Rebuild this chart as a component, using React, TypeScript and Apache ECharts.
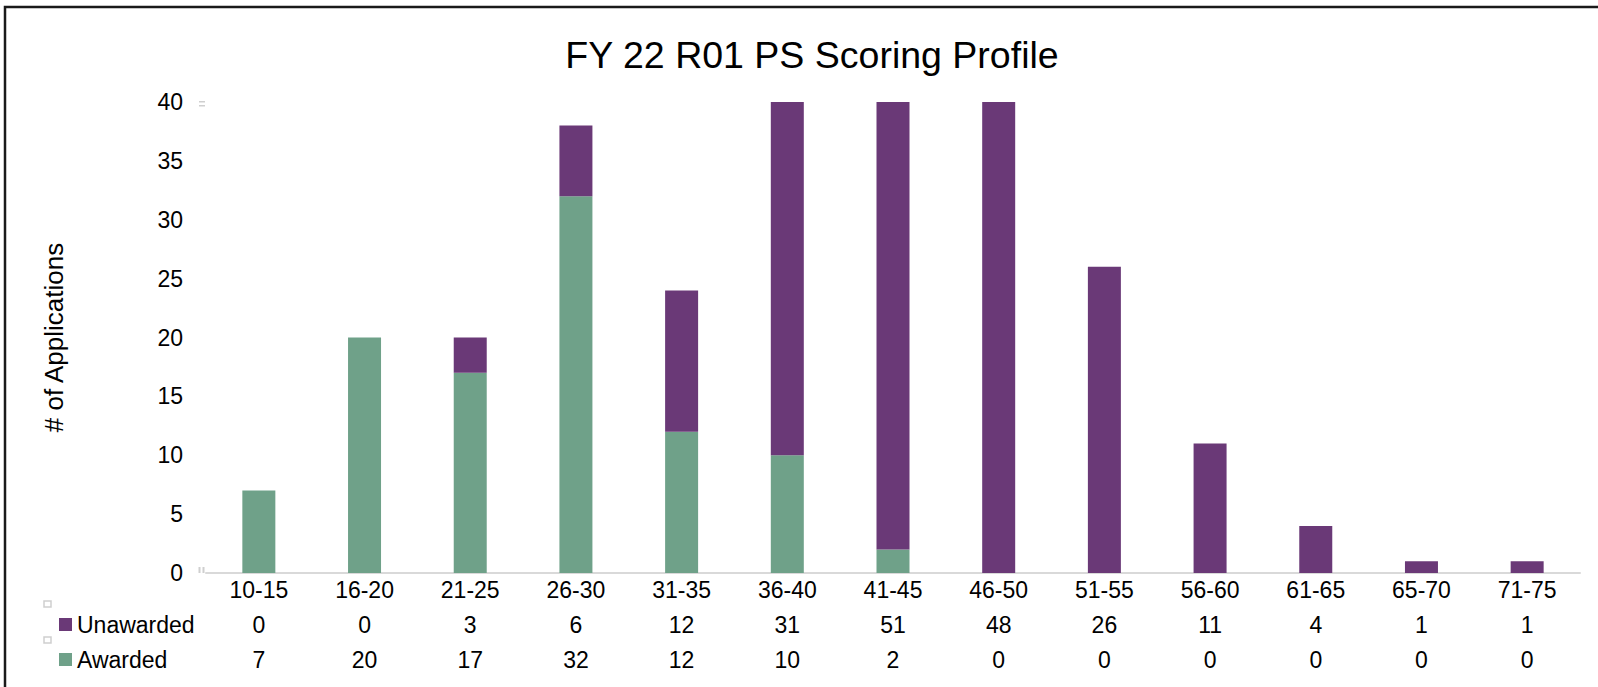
import React, { useEffect, useRef } from "react";
import * as echarts from "echarts";

const categories = ["10-15", "16-20", "21-25", "26-30", "31-35", "36-40", "41-45", "46-50", "51-55", "56-60", "61-65", "65-70", "71-75"];
const unawarded = [0, 0, 3, 6, 12, 31, 51, 48, 26, 11, 4, 1, 1];
const awarded = [7, 20, 17, 32, 12, 10, 2, 0, 0, 0, 0, 0, 0];

const PURPLE = "#6a3977";
const GREEN = "#6fa189";
const FONT = "'Liberation Sans', Arial, sans-serif";

export default function App() {
  const ref = useRef<HTMLDivElement>(null);
  useEffect(() => {
    document.body.style.margin = "0";
    const chart = echarts.init(ref.current!, null, { renderer: "svg" });
    chart.setOption({
      animation: false,
      backgroundColor: "#ffffff",
      textStyle: { fontFamily: FONT },
      title: {
        text: "FY 22 R01 PS Scoring Profile",
        left: 807,
        textAlign: "center",
        top: 31,
        textStyle: { fontSize: 37.5, fontWeight: "normal", color: "#000", fontFamily: FONT },
      },
      legend: {
        data: ["Unawarded", "Awarded"],
        orient: "vertical",
        left: 59,
        top: 613,
        padding: 0,
        itemWidth: 13,
        itemHeight: 13,
        itemGap: 12,
        icon: "rect",
        selectedMode: false,
        textStyle: { fontSize: 23, color: "#000", fontFamily: FONT, padding: 0 },
      },
      grid: { left: 206, right: 18, top: 102, bottom: 114, containLabel: false },
      xAxis: {
        type: "category",
        data: categories,
        axisLine: { show: true, lineStyle: { color: "#d9d9d9", width: 2 } },
        axisTick: { show: false },
        axisLabel: {
          margin: -1,
          interval: 0,
          formatter: (v: string, i: number) => `{a|${v}}\n{a|${unawarded[i]}}\n{a|${awarded[i]}}`,
          rich: { a: { fontSize: 23, lineHeight: 35, color: "#000", fontFamily: FONT } },
        },
      },
      yAxis: {
        type: "value",
        min: 0,
        max: 40,
        interval: 5,
        name: "# of Applications",
        nameLocation: "middle",
        nameGap: 139,
        nameTextStyle: { fontSize: 26, color: "#000", fontFamily: FONT },
        axisLine: { show: false },
        axisTick: { show: false },
        splitLine: { show: false },
        axisLabel: { fontSize: 23, color: "#000", margin: 23, fontFamily: FONT },
      },
      series: [
        {
          name: "Awarded",
          type: "bar",
          stack: "total",
          data: awarded,
          barWidth: 33,
          itemStyle: { color: GREEN },
          clip: true,
        },
        {
          name: "Unawarded",
          type: "bar",
          stack: "total",
          data: unawarded,
          barWidth: 33,
          itemStyle: { color: PURPLE },
          clip: true,
        },
      ],
      graphic: [
        {
          type: "rect",
          shape: { x: 5, y: 7, width: 1700, height: 800 },
          style: { fill: "none", stroke: "#1a1a1a", lineWidth: 2.5 },
          silent: true,
        },
        { type: "rect", shape: { x: 199, y: 101, width: 6, height: 1.5 }, style: { fill: "#cfcfcf" } },
        { type: "rect", shape: { x: 199, y: 105, width: 6, height: 1.5 }, style: { fill: "#cfcfcf" } },
        { type: "rect", shape: { x: 198.5, y: 567, width: 2, height: 6 }, style: { fill: "#cfcfcf" } },
        { type: "rect", shape: { x: 202.5, y: 567, width: 2, height: 6 }, style: { fill: "#cfcfcf" } },
        { type: "rect", shape: { x: 44, y: 601, width: 7, height: 6 }, style: { fill: "none", stroke: "#cfcfcf", lineWidth: 1.5 } },
        { type: "rect", shape: { x: 44, y: 637, width: 7, height: 6 }, style: { fill: "none", stroke: "#cfcfcf", lineWidth: 1.5 } },
      ],
    });
    return () => chart.dispose();
  }, []);
  return <div ref={ref} style={{ position: "fixed", left: 0, top: 0, width: 1598, height: 687 }} />;
}
